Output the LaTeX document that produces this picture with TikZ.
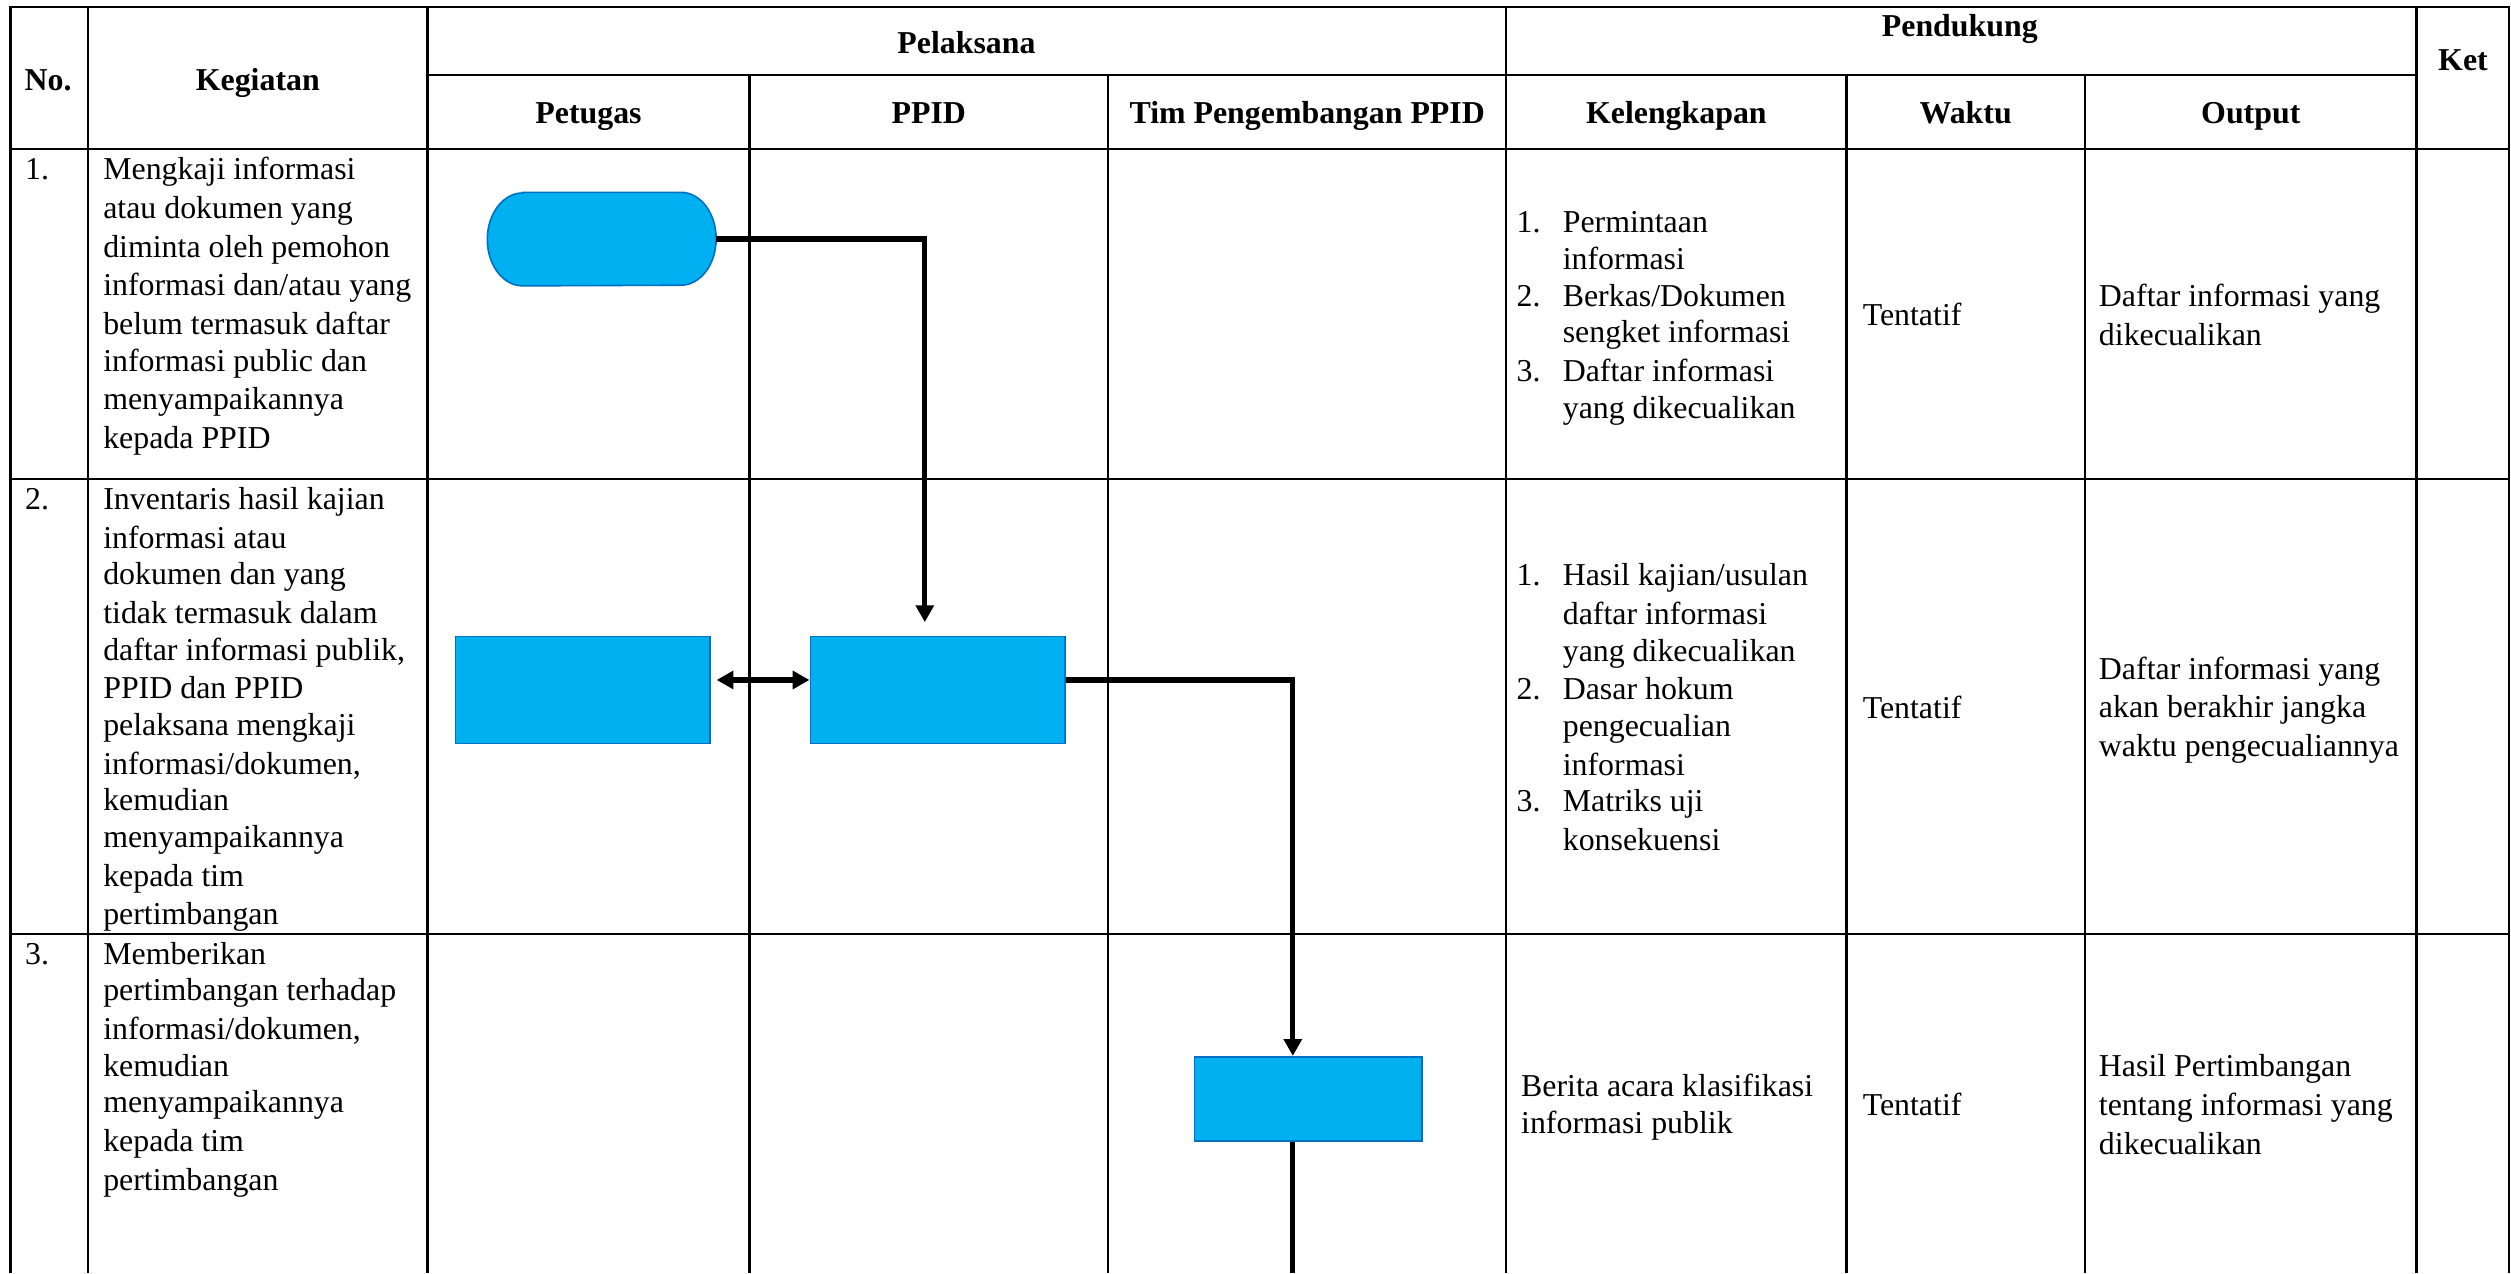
\documentclass[tikz,border=0pt]{standalone}
\usepackage{fontspec}
\setmainfont{Liberation Serif}
\usetikzlibrary{arrows.meta,calc}
\definecolor{fillblue}{HTML}{00B0F0}
\definecolor{boxblue}{HTML}{0070C0}
\newcommand\ws{\vrule height 18.9pt depth 4pt width 0pt}
\newcommand\ind{\hspace*{28.8pt}}
\newcommand\num[1]{\makebox[28.8pt][l]{#1}}
\begin{document}
\begin{tikzpicture}[x=1pt,y=-1pt,
  tline/.style={line width=1.4pt},
  txt/.style={inner sep=0pt, font=\fontsize{19.9}{22.9}\selectfont, align=left},
  hd/.style={inner sep=0pt, font=\fontsize{19.9}{22.9}\selectfont\bfseries, anchor=base},
  procbox/.style={draw=boxblue, fill=fillblue, line width=1pt, inner sep=0pt},
  flow/.style={line width=3.3pt, -{Triangle[width=11pt,length=10.5pt]}},
  bothflow/.style={line width=3.3pt, {Triangle[width=11pt,length=10.5pt]}-{Triangle[width=11pt,length=10.5pt]}}
]
\useasboundingbox (0,0) rectangle (1568,795);

% ---------- table grid ----------
\draw[tline] (6.5,795) -- (6.5,4.5) -- (1566.5,4.5) -- (1566.5,795);
\draw[tline] (55,4.5) -- (55,795);
\draw[tline] (267,4.5) -- (267,795);
\draw[tline] (940.5,4.5) -- (940.5,795);
\draw[tline] (1509,4.5) -- (1509,795);
\draw[tline] (468,46.8) -- (468,795);
\draw[tline] (692,46.8) -- (692,795);
\draw[tline] (1153,46.8) -- (1153,795);
\draw[tline] (1302,46.8) -- (1302,795);
\draw[tline] (267,46.8) -- (1509,46.8);
\draw[tline] (6.5,93) -- (1566.5,93);
\draw[tline] (6.5,299) -- (1566.5,299);
\draw[tline] (6.5,583) -- (1566.5,583);

% ---------- headers ----------
\node[hd] (hno) at (30,56.2) {No.};
\node[hd] (hkeg) at (161,56.2) {Kegiatan};
\node[hd] (hpel) at (603.5,33.1) {Pelaksana};
\node[hd] (hpen) at (1223.8,23) {Pendukung};
\node[hd] (hket) at (1538,44) {Ket};
\node[hd] (hpet) at (367.5,77.3) {Petugas};
\node[hd] (hppid) at (580,77.3) {PPID};
\node[hd] (htim) at (816.3,77.3) {Tim Pengembangan PPID};
\node[hd] (hkel) at (1046.8,77.3) {Kelengkapan};
\node[hd] (hwak) at (1227.5,77.3) {Waktu};
\node[hd] (hout) at (1405.5,77.3) {Output};

% ---------- row numbers ----------
\node[txt, anchor=north west] (n1) at (15.5,93) {\ws 1.};
\node[txt, anchor=north west] (n2) at (15.5,299) {\ws 2.};
\node[txt, anchor=north west] (n3) at (15.5,583) {\ws 3.};

% ---------- Kegiatan ----------
\node[txt, anchor=north west] (k1) at (64.3,93) {\ws Mengkaji informasi\\ \ws atau dokumen yang\\ \ws diminta oleh pemohon\\ \ws informasi dan/atau yang\\ \ws belum termasuk daftar\\ \ws informasi public dan\\ \ws menyampaikannya\\ \ws kepada PPID};
\node[txt, anchor=north west] (k2) at (64.3,299) {\ws Inventaris hasil kajian\\ \ws informasi atau\\ \ws dokumen dan yang\\ \ws tidak termasuk dalam\\ \ws daftar informasi publik,\\ \ws PPID dan PPID\\ \ws pelaksana mengkaji\\ \ws informasi/dokumen,\\ \ws kemudian\\ \ws menyampaikannya\\ \ws kepada tim\\ \ws pertimbangan};
\node[txt, anchor=north west] (k3) at (64.3,583) {\ws Memberikan\\ \ws pertimbangan terhadap\\ \ws informasi/dokumen,\\ \ws kemudian\\ \ws menyampaikannya\\ \ws kepada tim\\ \ws pertimbangan};

% ---------- Kelengkapan ----------
\node[txt, anchor=west] (l1) at (946.9,196) {\ws\num{1.}Permintaan\\ \ws\ind informasi\\ \ws\num{2.}Berkas/Dokumen\\ \ws\ind sengket informasi\\ \ws\num{3.}Daftar informasi\\ \ws\ind yang dikecualikan};
\node[txt, anchor=west] (l2) at (946.9,441) {\ws\num{1.}Hasil kajian/usulan\\ \ws\ind daftar informasi\\ \ws\ind yang dikecualikan\\ \ws\num{2.}Dasar hokum\\ \ws\ind pengecualian\\ \ws\ind informasi\\ \ws\num{3.}Matriks uji\\ \ws\ind konsekuensi};
\node[txt, anchor=west] (l3) at (949.7,689) {\ws Berita acara klasifikasi\\ \ws informasi publik};

% ---------- Waktu ----------
\node[txt, anchor=west] (w1) at (1163,196) {\ws Tentatif};
\node[txt, anchor=west] (w2) at (1163,441) {\ws Tentatif};
\node[txt, anchor=west] (w3) at (1163,689) {\ws Tentatif};

% ---------- Output ----------
\node[txt, anchor=west] (o1) at (1310.5,196) {\ws Daftar informasi yang\\ \ws dikecualikan};
\node[txt, anchor=west] (o2) at (1310.5,441) {\ws Daftar informasi yang\\ \ws akan berakhir jangka\\ \ws waktu pengecualiannya};
\node[txt, anchor=west] (o3) at (1310.5,689) {\ws Hasil Pertimbangan\\ \ws tentang informasi yang\\ \ws dikecualikan};

% ---------- flow shapes ----------
\node[inner sep=0pt, minimum width=142.5pt, minimum height=58pt] (t) at (375.75,149.3) {};
\draw[draw=boxblue, fill=fillblue, line width=1pt]
  ([xshift=22pt]t.north west) -- ([xshift=-22pt]t.north east)
  arc[start angle=90, end angle=-90, x radius=22pt, y radius=29pt]
  -- ([xshift=22pt]t.south west)
  arc[start angle=270, end angle=90, x radius=22pt, y radius=29pt] -- cycle;

\node[procbox, minimum width=159pt, minimum height=66.7pt] (b1) at (363.9,430.85) {};
\node[procbox, minimum width=159pt, minimum height=66.7pt] (b2) at (585.5,430.85) {};
\node[procbox, minimum width=141.8pt, minimum height=52.7pt] (b3) at (816.9,686.2) {};
\coordinate (cut) at (807.3,795);

% ---------- connectors ----------
\draw[flow, shorten >=8.5pt] (t.east) -| ([xshift=-8pt]b2.north);
\draw[bothflow, shorten <=3.6pt] ([yshift=6.25pt]b1.east) -- ([yshift=6.25pt]b2.west);
\draw[flow] ([yshift=6.25pt]b2.east) -| ([xshift=-9.6pt]b3.north);
\draw[line width=3.3pt] (cut |- b3.south) -- (cut);
\end{tikzpicture}
\end{document}
